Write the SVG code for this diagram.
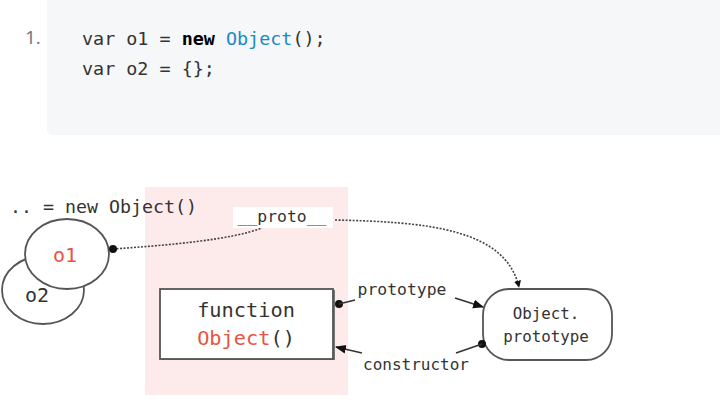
<svg xmlns="http://www.w3.org/2000/svg" width="720" height="417" viewBox="0 0 720 417">
<style>
.mono{font-family:"DejaVu Sans Mono","Liberation Mono",monospace;fill:#333}
.code{font-size:18.4px}
.lbl{font-size:16.4px;fill:#333}
.node{fill:#fff;stroke:#555;stroke-width:1.8}
.red{fill:#e8553e}
.line{fill:none;stroke:#333;stroke-width:1.6}
.dot{fill:none;stroke:#444;stroke-width:1.6;stroke-dasharray:2 1.5}
</style>
<defs>
<marker id="arr" viewBox="0 0 10 10" refX="9" refY="5" markerWidth="7" markerHeight="7" orient="auto" markerUnits="userSpaceOnUse">
<path d="M0,0 L10,5 L0,10 z" fill="#111"/>
</marker>
<marker id="arrL" viewBox="0 0 10 10" refX="9" refY="5" markerWidth="11" markerHeight="11" orient="auto" markerUnits="userSpaceOnUse">
<path d="M0,1 L10,5 L0,9 z" fill="#111"/>
</marker>
</defs>
<g id="code">
<path d="M47,0 H720 V135 H53 Q47,135 47,129 Z" fill="#f6f7f9"/>
<text x="25" y="44" font-family="'Open Sans','Noto Sans',sans-serif" font-size="19" fill="#6a737d">1.</text>
<text x="82" y="45" class="mono code">var o1 = <tspan font-weight="bold" fill="#000">new</tspan> <tspan fill="#1a8abf">Object</tspan>();</text>
<text x="82" y="75" class="mono code">var o2 = {};</text>
</g>
<rect id="pink-area" x="145" y="187" width="203" height="208" fill="#fdeaea"/>
<text id="caption" x="10" y="213" class="mono" font-size="18.3">.. = new Object()</text>
<g id="o2">
<ellipse cx="43" cy="290" rx="41" ry="34" class="node"/>
<text x="37" y="302" class="mono" font-size="20" text-anchor="middle">o2</text>
</g>
<g id="o1">
<ellipse cx="67" cy="254" rx="42" ry="35" class="node"/>
<text x="65" y="262" class="mono red" font-size="20" text-anchor="middle">o1</text>
</g>
<g id="function-object">
<rect x="161" y="290" width="174" height="70" fill="#777"/>
<rect x="160" y="289" width="173" height="70" class="node"/>
<text x="246" y="317" class="mono" font-size="20.3" text-anchor="middle">function</text>
<text x="246" y="345" class="mono" font-size="20.3" text-anchor="middle"><tspan class="red">Object</tspan>()</text>
</g>
<g id="object-prototype">
<rect x="483" y="289" width="129" height="71" rx="26" ry="26" class="node"/>
<text x="546" y="319" class="mono" font-size="15.8" text-anchor="middle">Object.</text>
<text x="546" y="342" class="mono" font-size="15.8" text-anchor="middle">prototype</text>
</g>
<g id="connectors">
<path d="M113,249 C170,245 230,240 262,228" class="dot"/>
<circle cx="113" cy="249" r="4" fill="#111"/>
<path d="M335,220 C425,222 505,228 519,287" class="dot" marker-end="url(#arr)"/>
<rect x="233" y="207" width="100" height="21" fill="#fff"/>
<text x="282" y="222" class="mono lbl" text-anchor="middle">__proto__</text>
<circle cx="339" cy="304" r="4" fill="#111"/>
<path d="M339,304 L355,300" class="line"/>
<text x="402" y="295" class="mono lbl" text-anchor="middle">prototype</text>
<path d="M455,298 L483,307" class="line" marker-end="url(#arrL)"/>
<circle cx="482" cy="344" r="4" fill="#111"/>
<path d="M482,344 L456,353" class="line"/>
<text x="416" y="370" class="mono" font-size="16" text-anchor="middle">constructor</text>
<path d="M362,353 L336,347" class="line" marker-end="url(#arrL)"/>
</g>
</svg>
